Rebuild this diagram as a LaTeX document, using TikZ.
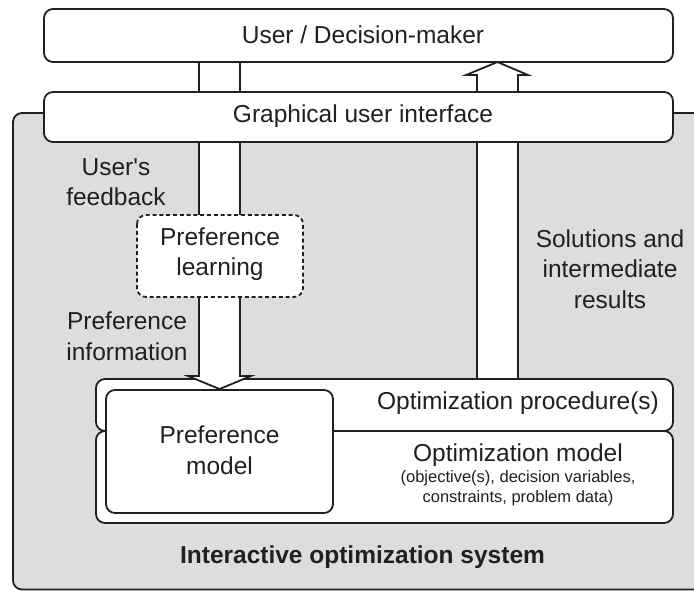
\documentclass[tikz,border=0pt]{standalone}
\usepackage{fontspec}
\setmainfont{Liberation Sans}
\definecolor{panel}{RGB}{220,221,223}
\definecolor{ink}{RGB}{35,31,32}
\tikzset{
  box/.style={draw=ink, line width=0.9pt, fill=white, rounded corners=4.5pt},
  dashbox/.style={box, dash pattern=on 2pt off 1.4pt},
  blockarrow/.style={draw=ink, line width=0.9pt, fill=white, line join=miter},
  txt/.style={inner sep=0pt, align=center, text=ink, font=\fontsize{12.25}{15.25}\selectfont},
  small/.style={txt, font=\fontsize{8.25}{10}\selectfont},
}
\begin{document}
\begin{tikzpicture}[x=0.5pt,y=-0.5pt]
\clip (0,0) rectangle (694,591);
% system panel
\draw[box, fill=panel] (13,113) rectangle (720,589.5);

% boxes
\draw[box] (44,9) rectangle (673,62);
\draw[box] (96,379) rectangle (673,431);
\draw[box] (96,431) rectangle (673,523);
\draw[box] (106,390) rectangle (333,513);

% block arrows
\coordinate (lin) at (219.5,62);
\coordinate (lout) at (219.5,389);
\draw[blockarrow] (lin) ++(-20.5,0) -- ++(0,314) -- ++(-11,0) -- (lout) -- ++(31.5,-13) -- ++(-11,0) -- ++(0,-314) -- cycle;
\coordinate (rin) at (497.5,379);
\coordinate (rout) at (497.5,62);
\draw[blockarrow] (rin) ++(-20.5,0) -- ++(0,-304) -- ++(-11,0) -- (rout) -- ++(30.5,13) -- ++(-10,0) -- ++(0,304) -- cycle;

\draw[box] (44,92) rectangle (673,142);
\draw[dashbox] (137,215) rectangle (303,297);

% texts
\node[txt] (user) at (363,35) {User / Decision-maker};
\node[txt] (gui) at (363,116) {Graphical user interface};
\node[txt] (feedback) at (116,182) {User\textquotesingle s\\feedback};
\node[txt] (learn) at (220,254) {Preference\\learning};
\node[txt] (prefinfo) at (127,336) {Preference\\information};
\node[txt] (solutions) at (610,269) {Solutions and\\intermediate\\results};
\node[txt] (proc) at (518,403) {Optimization procedure(s)};
\node[txt] (optmodel) at (518,455) {Optimization model};
\node[small] (optdata) at (518,488) {(objective(s), decision variables,\\constraints, problem data)};
\node[txt] (prefmodel) at (219.5,450) {Preference\\model};
\node[txt, font=\fontsize{12.25}{15.25}\selectfont\bfseries] (system) at (362.5,557) {Interactive optimization system};
\end{tikzpicture}
\end{document}
